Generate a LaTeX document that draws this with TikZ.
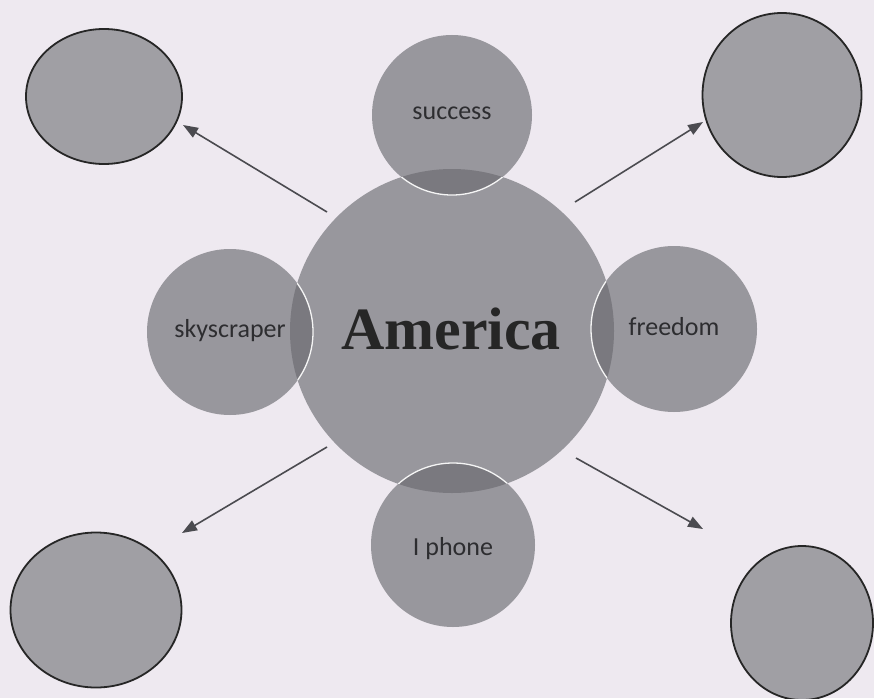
\documentclass[tikz,border=0pt]{standalone}
\usepackage{fontspec}
\setmainfont{Carlito}
\newfontfamily\amfont{Liberation Serif}
\usetikzlibrary{shapes.geometric,arrows.meta}
\definecolor{bg}{RGB}{238,233,240}
\definecolor{cgray}{RGB}{152,151,157}
\definecolor{lens}{RGB}{122,121,127}
\definecolor{egray}{RGB}{160,159,164}
\definecolor{txt}{RGB}{45,45,48}
\definecolor{arrc}{RGB}{75,75,80}
\begin{document}
\begin{tikzpicture}[x=1pt,y=-1pt,
  hub/.style={circle,fill=cgray,inner sep=0pt,minimum size=324pt},
  spoke/.style={circle,fill=cgray,inner sep=0pt},
  lbl/.style={font=\fontsize{26}{30}\selectfont,text=txt,anchor=base,inner sep=0pt},
  blank/.style={ellipse,draw=black!85,line width=1.8pt,fill=egray,inner sep=0pt},
  arr/.style={draw=arrc,line width=1.6pt,-{Triangle[length=15pt,width=11pt]}}]

\fill[bg] (0,0) rectangle (874,698);
\useasboundingbox (0,0) rectangle (874,698);

% central cluster
\node[hub] (am) at (452,331) {};
\node[spoke,minimum size=160pt] (su) at (452,115) {};
\node[spoke,minimum size=166pt] (sk) at (230,332) {};
\node[spoke,minimum size=166pt] (fr) at (674,329) {};
\node[spoke,minimum size=164pt] (ip) at (453,545) {};

\begin{scope}
  \clip (452,331) circle (162pt);
  \fill[lens] (452,115) circle (80pt);
  \fill[lens] (230,332) circle (83pt);
  \fill[lens] (674,329) circle (83pt);
  \fill[lens] (453,545) circle (82pt);
  \draw[white!90!cgray,line width=1.3pt] (452,115) circle (80pt);
  \draw[white!90!cgray,line width=1.3pt] (230,332) circle (83pt);
  \draw[white!90!cgray,line width=1.3pt] (674,329) circle (83pt);
  \draw[white!90!cgray,line width=1.3pt] (453,545) circle (82pt);
\end{scope}

% labels
\node[font=\amfont\bfseries\fontsize{60}{70}\selectfont,text=black!85,anchor=base,inner sep=0pt] (amt) at (451,349) {America};
\node[lbl] (sut) at (452,119) {success};
\node[lbl] (skt) at (230,337) {skyscraper};
\node[lbl] (frt) at (674,335) {freedom};
\node[lbl] (ipt) at (453,555) {I phone};

% corner blanks
\node[blank,minimum width=156pt,minimum height=135pt] (tl) at (104,96.5) {};
\node[blank,minimum width=159pt,minimum height=164pt] (tr) at (782,95) {};
\node[blank,minimum width=171pt,minimum height=155pt] (bl) at (96,610) {};
\node[blank,minimum width=142pt,minimum height=154pt] (br) at (802,623) {};

% arrows
\coordinate (a1s) at (327,212); \coordinate (a1e) at (183,125);
\coordinate (a2s) at (575,202); \coordinate (a2e) at (703,122);
\coordinate (a3s) at (327,447); \coordinate (a3e) at (182,533);
\coordinate (a4s) at (576,458); \coordinate (a4e) at (703,529);
\draw[arr] (a1s) -- (a1e);
\draw[arr] (a2s) -- (a2e);
\draw[arr] (a3s) -- (a3e);
\draw[arr] (a4s) -- (a4e);
\end{tikzpicture}
\end{document}
